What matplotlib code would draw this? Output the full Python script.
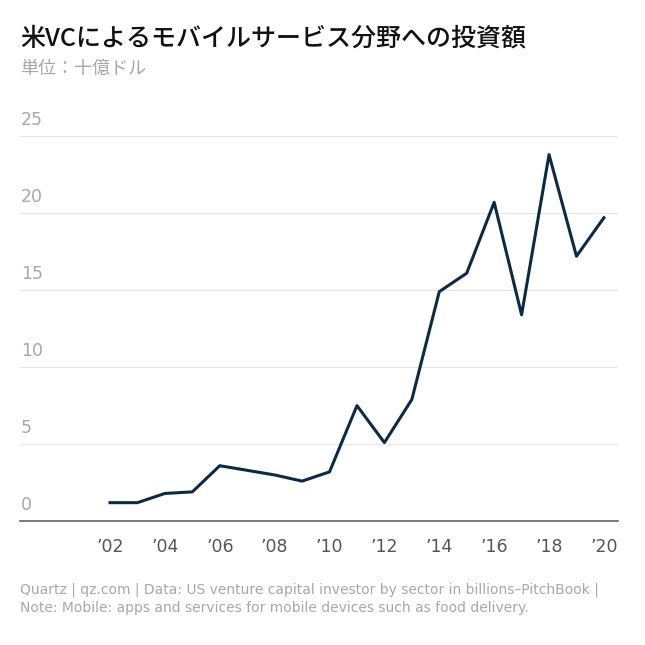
import matplotlib
matplotlib.use("Agg")
import matplotlib.pyplot as plt

years = list(range(2002, 2021))
values = [1.2, 1.2, 1.8, 1.9, 3.6, 3.3, 3.0, 2.6, 3.2, 7.5, 5.1, 7.9, 14.9, 16.1, 20.7, 13.4, 23.8, 17.2, 19.7]
yticks = [0, 5, 10, 15, 20, 25]
xticks = list(range(2002, 2021, 2))
xlabels = ["’%02d" % (y % 100) for y in xticks]

cjk = "Noto Sans CJK JP"
fig = plt.figure(figsize=(6.45, 6.45), dpi=100)
ax = fig.add_axes([0.031, 0.192, 0.927, 0.597])
ax.plot(years, values, color="#0d2a45", lw=2.2)
ax.set_xlim(1998.72, 2020.51)
ax.set_ylim(0, 25)
for t in yticks:
    if t > 0:
        ax.axhline(t, color="#e6e6e6", lw=0.8, zorder=0)
    ax.text(1998.75, t + 0.45, str(t), color="#a8a8a8", fontsize=12.5, ha="left", va="bottom")
ax.axhline(0, color="#666666", lw=1.2, clip_on=False)
for s in ax.spines.values():
    s.set_visible(False)
ax.set_yticks([])
ax.set_xticks(xticks)
ax.set_xticklabels(xlabels, color="#555555", fontsize=12.5)
ax.tick_params(axis="x", length=0, pad=12)

fig.text(0.031, 0.94, "米VCによるモバイルサービス分野への投資額", fontsize=18, family=cjk, weight="medium", color="#111111", va="center")
fig.text(0.031, 0.893, "単位：十億ドル", fontsize=13, family=cjk, color="#a8a8a8", va="center")
fig.text(0.031, 0.085, "Quartz | qz.com | Data: US venture capital investor by sector in billions–PitchBook |", fontsize=10, color="#a8a8a8", va="center")
fig.text(0.031, 0.057, "Note: Mobile: apps and services for mobile devices such as food delivery.", fontsize=10, color="#a8a8a8", va="center")
fig.savefig("out.png", dpi=100, facecolor="white")
